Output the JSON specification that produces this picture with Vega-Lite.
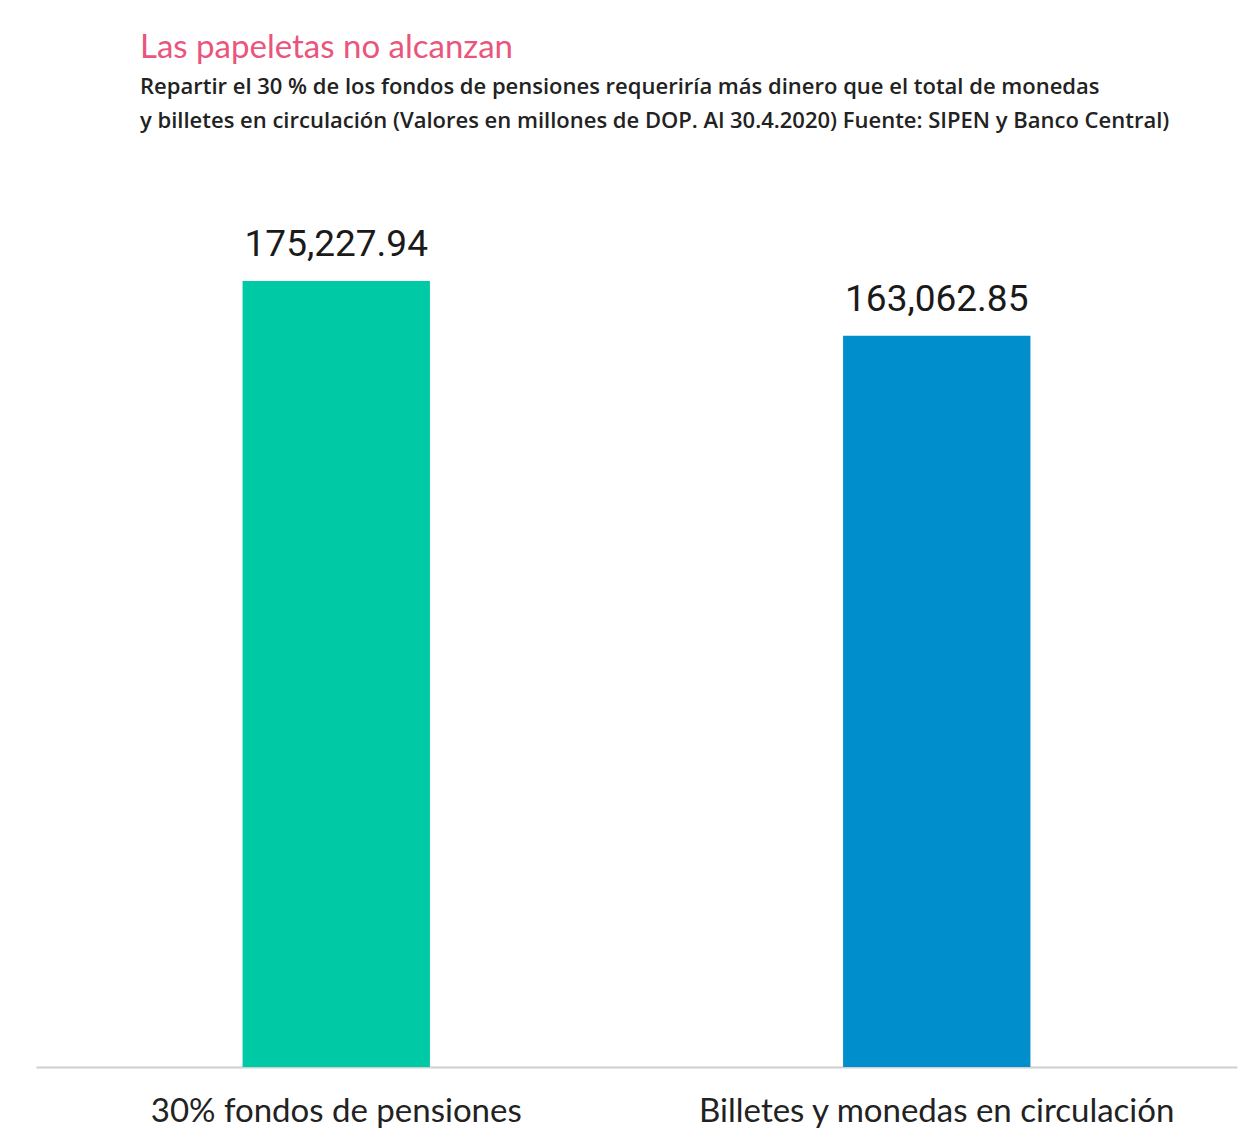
{
  "$schema": "https://vega.github.io/schema/vega-lite/v6.json",
  "width": 1201,
  "height": 897,
  "padding": {"left": 36, "right": 7, "top": 32, "bottom": 8},
  "background": "white",
  "title": {
    "text": "Las papeletas no alcanzan",
    "subtitle": [
      "Repartir el 30 % de los fondos de pensiones requeriría más dinero que el total de monedas",
      "y billetes en circulación (Valores en millones de DOP. Al 30.4.2020) Fuente: SIPEN y Banco Central)"
    ],
    "anchor": "start",
    "frame": "group",
    "dx": 104,
    "font": "Lato",
    "fontSize": 33,
    "fontWeight": "normal",
    "color": "#E9557C",
    "subtitleFont": "Open Sans",
    "subtitleFontSize": 22,
    "subtitleFontWeight": 600,
    "subtitleColor": "#222222",
    "subtitleLineHeight": 34,
    "subtitlePadding": 12,
    "offset": 38
  },
  "data": {
    "values": [
      {"categoria": "30% fondos de pensiones", "valor": 175227.94, "etiqueta": "175,227.94"},
      {"categoria": "Billetes y monedas en circulación", "valor": 163062.85, "etiqueta": "163,062.85"}
    ]
  },
  "encoding": {
    "x": {
      "field": "categoria",
      "type": "nominal",
      "sort": null,
      "scale": {"paddingInner": 0.688, "paddingOuter": 0.344},
      "axis": {
        "title": null,
        "labelAngle": 0,
        "labelFont": "Lato",
        "labelFontSize": 33,
        "labelColor": "#222222",
        "labelPadding": 28,
        "ticks": false,
        "domainColor": "#cfcfcf",
        "domainWidth": 2,
        "labelLimit": 600
      }
    },
    "y": {
      "field": "valor",
      "type": "quantitative",
      "scale": {"domain": [0, 200000]},
      "axis": null
    }
  },
  "layer": [
    {
      "mark": {"type": "bar"},
      "encoding": {
        "color": {
          "field": "categoria",
          "type": "nominal",
          "scale": {"range": ["#00CAA6", "#008FCC"]},
          "legend": null
        }
      }
    },
    {
      "mark": {"type": "text", "baseline": "bottom", "dy": -17, "font": "Roboto", "fontSize": 37, "color": "#1a1a1a"},
      "encoding": {
        "text": {"field": "etiqueta"}
      }
    }
  ],
  "config": {
    "view": {"stroke": null},
    "axis": {"grid": false}
  }
}
